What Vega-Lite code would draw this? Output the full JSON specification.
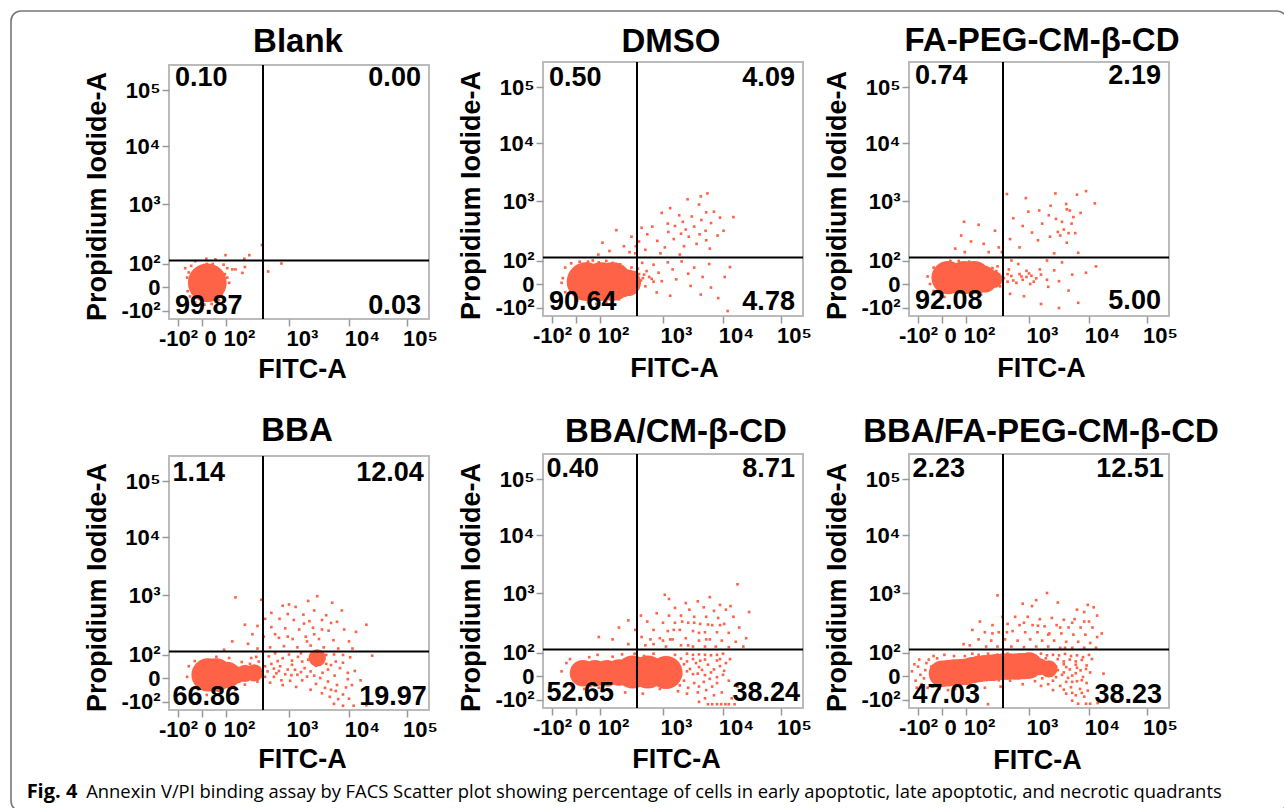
{"$schema":"https://vega.github.io/schema/vega-lite/v6.json","padding":{"left":10,"top":10,"right":0,"bottom":0},"background":"white",
"config":{"view":{"stroke":null},"title":{"font":"Liberation Sans","fontSize":33,"fontWeight":"bold","color":"#000"},"axis":{"values":[-1,-0.9,-0.8,-0.7,-0.6,-0.5,-0.4,-0.3,-0.2,-0.1,0,0.1,0.2,0.3,0.4,0.5,0.6,0.7,0.8,0.9,1,1.301,1.477,1.602,1.699,1.778,1.845,1.903,1.954,2,2.301,2.477,2.602,2.699,2.778,2.845,2.903,2.954,3,3.301,3.477,3.602,3.699,3.778,3.845,3.903,3.954,4,4.301],"labelExpr":"{'-1':'-10²','0':'0','1':'10²','2':'10³','3':'10⁴','4':'10⁵'}[datum.value]||''","domain":false,"grid":false,"labelFont":"Liberation Sans","labelFontSize":22,"labelFontWeight":"bold","labelColor":"#000","labelOverlap":false,"labelFlush":false,"labelBound":false,"tickColor":"#999","tickWidth":1.5,"tickSize":7,"titleFont":"Liberation Sans","titleFontSize":27,"titleFontWeight":"bold","titleColor":"#000","titleBaseline":"middle"},"text":{"font":"Liberation Sans","fontSize":27,"fontWeight":"bold","baseline":"middle","color":"#000"},"circle":{"color":"#ff6347","opacity":1},"square":{"color":"#ff6347","opacity":1,"size":7},"rule":{"color":"#000","strokeWidth":2}},
"datasets":{"gx":[{"x":1.587}],"gy":[{"y":1.05}],
"c1":[{"x":0.22,"y":0.18,"s":"l"}],
"c2":[{"x":0.42,"y":0.1,"s":"l"},{"x":1.02,"y":0.1,"s":"l"},{"x":1.2,"y":0.1,"s":"l"},{"x":1.44,"y":0.05,"s":"m"}],
"c3":[{"x":0.25,"y":0.27,"s":"k"},{"x":0.92,"y":0.27,"s":"k"},{"x":1.13,"y":0.27,"s":"k"},{"x":1.29,"y":0.2,"s":"m"},{"x":1.44,"y":0.2,"s":"s"}],
"c4":[{"x":0.25,"y":0.13,"s":"k"},{"x":0.58,"y":0.13,"s":"k"},{"x":1.02,"y":0.13,"s":"m"},{"x":1.17,"y":0.13,"s":"s"},{"x":1.3,"y":0.2,"s":"s"},{"x":1.45,"y":0.22,"s":"s"},{"x":2.47,"y":0.86,"s":"s"}],
"c5":[{"x":0.29,"y":0.12,"s":"m"},{"x":0.79,"y":0.12,"s":"m"},{"x":1.11,"y":0.12,"s":"m"},{"x":1.3,"y":0.15,"s":"m"},{"x":1.52,"y":0.17,"s":"k"},{"x":1.76,"y":0.17,"s":"k"},{"x":2.05,"y":0.15,"s":"k"}],
"c6":[{"x":0,"y":0.1,"s":"m"},{"x":0.25,"y":0.12,"s":"m"},{"x":0.5,"y":0.15,"s":"m"},{"x":0.75,"y":0.16,"s":"m"},{"x":1,"y":0.18,"s":"m"},{"x":1.1,"y":0.25,"s":"m"},{"x":1.2,"y":0.3,"s":"m"},{"x":1.3,"y":0.33,"s":"m"},{"x":1.41,"y":0.35,"s":"m"},{"x":1.5,"y":0.38,"s":"m"},{"x":1.6,"y":0.4,"s":"m"},{"x":1.7,"y":0.4,"s":"m"},{"x":1.81,"y":0.4,"s":"m"},{"x":1.9,"y":0.42,"s":"m"},{"x":2,"y":0.45,"s":"m"},{"x":2.17,"y":0.4,"s":"s"},{"x":2.33,"y":0.3,"s":"s"}],
"p1":[{"x":1.57,"y":1.31},{"x":1.37,"y":1.14},{"x":1.29,"y":1.08},{"x":0.98,"y":1.14},{"x":0.56,"y":1.07},{"x":0.18,"y":1.08},{"x":-0.28,"y":1.04},{"x":1.67,"y":0.66},{"x":1.88,"y":1},{"x":1.15,"y":0.75},{"x":1.1,"y":0.75},{"x":1.3,"y":0.85},{"x":1.26,"y":0.6},{"x":1.05,"y":0.18},{"x":-0.7,"y":0.8},{"x":-0.28,"y":-0.66},{"x":0.9,"y":0.95},{"x":1.02,"y":0.8},{"x":-0.62,"y":0.4},{"x":-0.6,"y":-0.18},{"x":0.78,"y":-0.3},{"x":1.02,"y":0.4},{"x":0.2,"y":0.98},{"x":-0.45,"y":0.9},{"x":0.45,"y":0.98},{"x":0.95,"y":0.55},{"x":-0.55,"y":0.62},{"x":0.7,"y":-0.55},{"x":-0.5,"y":-0.4},{"x":0.1,"y":-0.75},{"x":0.4,"y":-0.72}],
"p2":[{"x":2.74,"y":2.13},{"x":2.63,"y":2.08},{"x":2.41,"y":2.03},{"x":2.6,"y":1.94},{"x":2.12,"y":1.88},{"x":2.85,"y":1.82},{"x":2.72,"y":1.81},{"x":1.98,"y":1.8},{"x":2.27,"y":1.76},{"x":2.48,"y":1.74},{"x":2.95,"y":1.72},{"x":3.18,"y":1.73},{"x":2.64,"y":1.68},{"x":2.33,"y":1.65},{"x":2.8,"y":1.63},{"x":2.08,"y":1.62},{"x":2.2,"y":1.58},{"x":2.52,"y":1.57},{"x":2.38,"y":1.52},{"x":3.01,"y":1.5},{"x":2.71,"y":1.5},{"x":1.83,"y":1.57},{"x":2.09,"y":1.48},{"x":2.3,"y":1.45},{"x":2.61,"y":1.44},{"x":2.91,"y":1.42},{"x":1.75,"y":1.44},{"x":2.43,"y":1.4},{"x":2.18,"y":1.36},{"x":2.72,"y":1.34},{"x":1.91,"y":1.33},{"x":2.56,"y":1.28},{"x":2.35,"y":1.24},{"x":2.03,"y":1.22},{"x":2.78,"y":1.2},{"x":1.66,"y":1.55},{"x":1.62,"y":1.32},{"x":1.72,"y":1.18},{"x":1.96,"y":1.12},{"x":2.28,"y":1.1},{"x":1.26,"y":1.51},{"x":1.04,"y":1.3},{"x":1.5,"y":1.4},{"x":1.38,"y":1.24},{"x":1.15,"y":1.16},{"x":1.47,"y":1.14},{"x":0.93,"y":1.1},{"x":1.57,"y":1.24},{"x":1.56,"y":1.12},{"x":1.67,"y":0.9},{"x":1.85,"y":0.82},{"x":2.08,"y":0.92},{"x":2.31,"y":0.96},{"x":2.52,"y":0.7},{"x":2.77,"y":0.85},{"x":3.12,"y":0.72},{"x":1.74,"y":0.55},{"x":1.93,"y":0.48},{"x":2.16,"y":0.62},{"x":2.42,"y":0.44},{"x":2.66,"y":0.3},{"x":3.03,"y":0.3},{"x":1.68,"y":0.25},{"x":1.82,"y":0.22},{"x":1.98,"y":0.12},{"x":2.22,"y":0.2},{"x":2.46,"y":-0.08},{"x":2.8,"y":-0.15},{"x":1.72,"y":-0.1},{"x":1.9,"y":-0.36},{"x":2.12,"y":-0.5},{"x":2.63,"y":-0.45},{"x":2.92,"y":-0.6},{"x":3.08,"y":-1.15},{"x":1.63,"y":0.05},{"x":1.62,"y":0.42},{"x":1.57,"y":-0.35},{"x":1.4,"y":-0.5},{"x":1.1,"y":-0.75},{"x":0.85,"y":-0.85},{"x":-0.45,"y":0.7},{"x":-0.55,"y":0.25},{"x":-0.2,"y":0.88},{"x":0.5,"y":0.95},{"x":0.95,"y":0.92},{"x":1.32,"y":0.84},{"x":1.5,"y":0.7},{"x":1.55,"y":0.5},{"x":1.52,"y":0.3},{"x":1.58,"y":0.15},{"x":1.55,"y":-0.1},{"x":1.45,"y":-0.3},{"x":1.65,"y":0.15},{"x":1.7,"y":0.4},{"x":1.78,"y":0.3},{"x":1.85,"y":0.1},{"x":1.6,"y":0.65},{"x":1.1,"y":0.98},{"x":0.7,"y":1},{"x":0.15,"y":0.95},{"x":-0.6,"y":0.05},{"x":-0.45,"y":-0.35},{"x":0.05,"y":-0.7},{"x":0.5,"y":-0.78},{"x":1.3,"y":-0.65},{"x":1.2,"y":0.9}],
"p3":[{"x":2.95,"y":2.17},{"x":2.8,"y":2.11},{"x":2.44,"y":2.13},{"x":1.65,"y":2.12},{"x":1.95,"y":2.05},{"x":3.1,"y":1.96},{"x":2.62,"y":1.95},{"x":2.36,"y":1.92},{"x":2.63,"y":1.86},{"x":2.68,"y":1.84},{"x":2.17,"y":1.84},{"x":1.99,"y":1.82},{"x":2.86,"y":1.8},{"x":2.33,"y":1.76},{"x":2.74,"y":1.73},{"x":2.45,"y":1.7},{"x":1.75,"y":1.71},{"x":2.55,"y":1.65},{"x":2.22,"y":1.62},{"x":2.71,"y":1.62},{"x":1.9,"y":1.58},{"x":2.58,"y":1.52},{"x":2.48,"y":1.48},{"x":2.66,"y":1.46},{"x":2.05,"y":1.47},{"x":2.35,"y":1.4},{"x":2.77,"y":1.46},{"x":2.52,"y":1.42},{"x":1.7,"y":1.36},{"x":2.15,"y":1.34},{"x":2.63,"y":1.3},{"x":1.85,"y":1.22},{"x":2.82,"y":1.13},{"x":2.42,"y":1.12},{"x":0.92,"y":1.65},{"x":1.2,"y":1.6},{"x":1.46,"y":1.5},{"x":0.8,"y":1.42},{"x":1.08,"y":1.32},{"x":1.28,"y":1.28},{"x":1.52,"y":1.22},{"x":0.55,"y":1.2},{"x":0.95,"y":1.14},{"x":1.36,"y":1.14},{"x":1.57,"y":1.14},{"x":1.72,"y":1},{"x":1.83,"y":0.85},{"x":2.3,"y":1},{"x":2.55,"y":0.92},{"x":2.95,"y":0.48},{"x":3.12,"y":0.75},{"x":1.68,"y":0.62},{"x":1.96,"y":0.56},{"x":2.18,"y":0.62},{"x":2.42,"y":0.58},{"x":2.72,"y":0.4},{"x":1.72,"y":0.34},{"x":1.88,"y":0.32},{"x":1.96,"y":0.3},{"x":2.04,"y":0.35},{"x":2.12,"y":0.24},{"x":2.3,"y":0.18},{"x":2.5,"y":0.12},{"x":1.66,"y":0.1},{"x":1.8,"y":0.05},{"x":2.02,"y":0},{"x":2.32,"y":-0.12},{"x":2.66,"y":-0.28},{"x":1.7,"y":-0.42},{"x":1.92,"y":-0.52},{"x":2.2,"y":-0.85},{"x":2.5,"y":-1.02},{"x":2.82,"y":-0.8},{"x":1.56,"y":0.3},{"x":1.5,"y":0.05},{"x":1.4,"y":-0.2},{"x":1.24,"y":-0.45},{"x":1.48,"y":0.55},{"x":1.32,"y":0.72},{"x":1.12,"y":0.82},{"x":0.7,"y":0.98},{"x":-0.35,"y":0.7},{"x":-0.6,"y":0.32},{"x":1.5,"y":0.75},{"x":1.54,"y":-0.1},{"x":1.6,"y":0.25},{"x":1.66,"y":0.42},{"x":1.75,"y":0.15},{"x":1.85,"y":0.42},{"x":1.9,"y":0.18},{"x":2,"y":0.45},{"x":2.08,"y":0.1},{"x":2.2,"y":0.4},{"x":1.35,"y":0.5},{"x":1.42,"y":0.68},{"x":1.22,"y":-0.2},{"x":0.95,"y":-0.55},{"x":0.55,"y":-0.55},{"x":0.1,"y":-0.55},{"x":1.05,"y":0.95},{"x":0.35,"y":0.98},{"x":-0.5,"y":0},{"x":-0.35,"y":-0.3}],
"p4":[{"x":2.47,"y":1.98},{"x":2.72,"y":1.87},{"x":2.32,"y":1.9},{"x":2,"y":1.84},{"x":1.9,"y":1.82},{"x":2.11,"y":1.8},{"x":2.88,"y":1.74},{"x":2.42,"y":1.74},{"x":1.72,"y":1.7},{"x":1.98,"y":1.68},{"x":2.24,"y":1.67},{"x":2.62,"y":1.66},{"x":1.62,"y":1.6},{"x":1.85,"y":1.6},{"x":2.08,"y":1.58},{"x":2.34,"y":1.56},{"x":2.55,"y":1.58},{"x":2.8,"y":1.55},{"x":3.3,"y":1.5},{"x":1.3,"y":1.5},{"x":1.5,"y":1.48},{"x":1.72,"y":1.46},{"x":1.94,"y":1.44},{"x":2.17,"y":1.42},{"x":2.4,"y":1.45},{"x":2.66,"y":1.4},{"x":2.92,"y":1.42},{"x":3.12,"y":1.38},{"x":1.42,"y":1.34},{"x":1.6,"y":1.3},{"x":1.84,"y":1.28},{"x":2.06,"y":1.26},{"x":2.28,"y":1.3},{"x":2.5,"y":1.26},{"x":2.74,"y":1.24},{"x":3,"y":1.22},{"x":1.1,"y":1.22},{"x":1.35,"y":1.18},{"x":1.7,"y":1.12},{"x":1.92,"y":1.14},{"x":2.14,"y":1.12},{"x":2.36,"y":1.15},{"x":2.58,"y":1.12},{"x":2.82,"y":1.1},{"x":3.06,"y":1.1},{"x":0.92,"y":1.08},{"x":1.5,"y":1.1},{"x":1.15,"y":1.96},{"x":1.56,"y":1.92},{"x":1.68,"y":0.92},{"x":1.9,"y":0.84},{"x":2.15,"y":0.9},{"x":2.32,"y":0.78},{"x":2.58,"y":0.82},{"x":2.78,"y":0.7},{"x":3.02,"y":0.88},{"x":3.4,"y":0.95},{"x":1.72,"y":0.6},{"x":1.86,"y":0.5},{"x":2.05,"y":0.56},{"x":2.26,"y":0.42},{"x":2.45,"y":0.52},{"x":2.65,"y":0.36},{"x":2.85,"y":0.42},{"x":1.66,"y":0.28},{"x":1.8,"y":0.2},{"x":1.94,"y":0.16},{"x":2.04,"y":0.12},{"x":2.14,"y":0.14},{"x":2.3,"y":0.06},{"x":2.52,"y":0},{"x":2.76,"y":0.1},{"x":2.98,"y":-0.05},{"x":3.2,"y":-0.1},{"x":1.7,"y":-0.2},{"x":1.9,"y":-0.3},{"x":2.12,"y":-0.38},{"x":2.36,"y":-0.5},{"x":2.6,"y":-0.42},{"x":2.78,"y":-0.55},{"x":2.95,"y":-0.4},{"x":2.68,"y":-0.8},{"x":2.82,"y":-0.9},{"x":3,"y":-0.88},{"x":2.75,"y":-1.1},{"x":2.9,"y":-1.18},{"x":3.08,"y":-1.18},{"x":3.3,"y":-1.16},{"x":1.4,"y":0.85},{"x":1.52,"y":0.7},{"x":1.25,"y":0.68},{"x":1.45,"y":0.45},{"x":1.56,"y":0.25},{"x":1.1,"y":0.52},{"x":1.34,"y":0.38},{"x":1.5,"y":-0.15},{"x":1.3,"y":-0.28},{"x":1.05,"y":0.85},{"x":0.6,"y":0.9},{"x":1.15,"y":-0.5},{"x":-0.55,"y":0.5},{"x":-0.62,"y":0.05},{"x":-0.3,"y":0.72},{"x":0.2,"y":-0.72},{"x":0.7,"y":-0.55},{"x":1.42,"y":0.1},{"x":1.5,"y":0.3},{"x":1.55,"y":0.05},{"x":1.38,"y":0.6},{"x":1.48,"y":0.9},{"x":1.62,"y":0.5},{"x":1.62,"y":0.05},{"x":1.76,"y":0.4},{"x":1.76,"y":0.05},{"x":1.84,"y":0.3},{"x":1.88,"y":-0.1},{"x":1.98,"y":0.36},{"x":2.02,"y":-0.12},{"x":2.1,"y":0.35},{"x":2.2,"y":0.25},{"x":2.22,"y":-0.1},{"x":2.36,"y":0.28},{"x":2.42,"y":0.1},{"x":2.56,"y":0.22},{"x":2.62,"y":0.6},{"x":2.7,"y":0.55},{"x":2.9,"y":0.65},{"x":2.4,"y":0.68},{"x":2.22,"y":0.7},{"x":2.05,"y":0.74},{"x":1.82,"y":0.72},{"x":2.62,"y":0.98},{"x":2.75,"y":1},{"x":2.9,"y":0.98},{"x":2.4,"y":1},{"x":2.2,"y":1.02},{"x":2,"y":1},{"x":1.78,"y":1.02},{"x":2.65,"y":-0.15},{"x":2.8,"y":-0.3},{"x":2.45,"y":-0.25},{"x":2.55,"y":-0.65},{"x":2.7,"y":-0.5},{"x":2.9,"y":-0.7},{"x":3.05,"y":-0.3},{"x":3.1,"y":0.3},{"x":2.98,"y":0.22},{"x":2.3,"y":1.22},{"x":2.55,"y":1.42},{"x":2.25,"y":1.52},{"x":2.7,"y":1.53},{"x":1.98,"y":1.3},{"x":1.78,"y":1.34},{"x":2.42,"y":1.34}],
"p5":[{"x":3.25,"y":2.15},{"x":2.03,"y":1.97},{"x":2.1,"y":1.9},{"x":2.78,"y":1.93},{"x":2.58,"y":1.86},{"x":2.38,"y":1.83},{"x":2.95,"y":1.8},{"x":3.13,"y":1.78},{"x":2.2,"y":1.75},{"x":2.44,"y":1.72},{"x":2.68,"y":1.76},{"x":2.85,"y":1.7},{"x":3.05,"y":1.72},{"x":3.45,"y":1.68},{"x":1.65,"y":1.62},{"x":1.9,"y":1.66},{"x":2.1,"y":1.62},{"x":2.3,"y":1.62},{"x":2.52,"y":1.6},{"x":2.72,"y":1.6},{"x":2.92,"y":1.58},{"x":3.18,"y":1.6},{"x":1.45,"y":1.54},{"x":1.75,"y":1.52},{"x":2,"y":1.5},{"x":2.2,"y":1.5},{"x":2.42,"y":1.5},{"x":2.62,"y":1.48},{"x":2.82,"y":1.46},{"x":3.02,"y":1.48},{"x":3.28,"y":1.42},{"x":1.3,"y":1.42},{"x":1.56,"y":1.38},{"x":1.85,"y":1.38},{"x":2.08,"y":1.36},{"x":2.28,"y":1.38},{"x":2.5,"y":1.36},{"x":2.7,"y":1.34},{"x":2.9,"y":1.34},{"x":3.1,"y":1.33},{"x":3.4,"y":1.24},{"x":0.95,"y":1.26},{"x":1.2,"y":1.22},{"x":1.66,"y":1.26},{"x":1.95,"y":1.24},{"x":2.16,"y":1.22},{"x":2.38,"y":1.24},{"x":2.6,"y":1.2},{"x":2.78,"y":1.22},{"x":2.98,"y":1.2},{"x":3.22,"y":1.18},{"x":1.45,"y":1.14},{"x":1.72,"y":1.12},{"x":2.05,"y":1.1},{"x":2.3,"y":1.12},{"x":2.5,"y":1.1},{"x":2.7,"y":1.1},{"x":2.88,"y":1.1},{"x":3.1,"y":1.09},{"x":3.35,"y":1.1},{"x":2.2,"y":0.9},{"x":2.4,"y":0.95},{"x":2.6,"y":0.92},{"x":2.8,"y":0.88},{"x":3,"y":0.95},{"x":2.3,"y":0.74},{"x":2.5,"y":0.72},{"x":2.7,"y":0.7},{"x":2.9,"y":0.66},{"x":3.12,"y":0.72},{"x":2.35,"y":0.5},{"x":2.55,"y":0.55},{"x":2.75,"y":0.48},{"x":2.95,"y":0.42},{"x":2.45,"y":0.3},{"x":2.65,"y":0.26},{"x":2.85,"y":0.28},{"x":3.02,"y":0.22},{"x":2.3,"y":0.05},{"x":2.5,"y":0.08},{"x":2.7,"y":0.04},{"x":2.9,"y":-0.05},{"x":2.35,"y":-0.2},{"x":2.52,"y":-0.3},{"x":2.42,"y":-0.5},{"x":2.68,"y":-0.25},{"x":2.82,"y":-0.45},{"x":2.98,"y":-0.7},{"x":3.25,"y":-0.45},{"x":2.58,"y":-0.7},{"x":2.7,"y":-0.95},{"x":2.85,"y":-0.82},{"x":3.15,"y":-0.95},{"x":2.6,"y":-1.1},{"x":2.75,"y":-1.2},{"x":2.82,"y":-1.2},{"x":2.9,"y":-1.2},{"x":2.97,"y":-1.2},{"x":3.04,"y":-1.2},{"x":3.1,"y":-1.2},{"x":3.2,"y":-1.2},{"x":1.55,"y":0.95},{"x":1.35,"y":0.92},{"x":0.9,"y":0.9},{"x":1.85,"y":0.95},{"x":2.05,"y":0.8},{"x":-0.4,"y":0.55},{"x":-0.6,"y":0.2},{"x":-0.25,"y":0.72},{"x":0.35,"y":-0.55},{"x":0.95,"y":-0.5},{"x":1.4,"y":-0.7},{"x":1.68,"y":-0.75},{"x":2.12,"y":0.55},{"x":2.22,"y":0.35},{"x":2.2,"y":0.1},{"x":2.15,"y":-0.15},{"x":2.28,"y":-0.4},{"x":2.1,"y":-0.45},{"x":1.95,"y":-0.55},{"x":2.25,"y":-0.65},{"x":2.4,"y":-0.75},{"x":2.4,"y":0.2},{"x":2.6,"y":0.38},{"x":2.58,"y":0.1},{"x":2.8,"y":0.15},{"x":2.78,"y":-0.12},{"x":3,"y":0.05},{"x":3.1,"y":-0.2},{"x":2.6,"y":-0.45},{"x":2.9,"y":-0.3},{"x":2.72,"y":-0.6},{"x":2.95,"y":0.72},{"x":3.05,"y":0.55},{"x":2.62,"y":0.65},{"x":2.4,"y":0.62},{"x":2.5,"y":0.9},{"x":2.7,"y":0.9},{"x":2.9,"y":0.9},{"x":2.72,"y":1.22},{"x":2.42,"y":1.12},{"x":2.6,"y":1.33},{"x":2.18,"y":1.38},{"x":2,"y":1.2},{"x":1.85,"y":1.14},{"x":2.32,"y":1.52},{"x":2.52,"y":1.5},{"x":2.75,"y":1.47},{"x":2.95,"y":1.46},{"x":2.12,"y":1.22},{"x":1.8,"y":1.22},{"x":0.55,"y":0.8},{"x":1.2,"y":0.82},{"x":1.7,"y":0.85},{"x":2.02,"y":-0.3},{"x":1.15,"y":-0.38},{"x":0.6,"y":-0.42},{"x":-0.2,"y":-0.4}],
"p6":[{"x":2.3,"y":2},{"x":1.5,"y":1.96},{"x":2.12,"y":1.88},{"x":2.48,"y":1.84},{"x":1.9,"y":1.82},{"x":2.05,"y":1.78},{"x":2.98,"y":1.8},{"x":3.08,"y":1.76},{"x":2.8,"y":1.72},{"x":2.92,"y":1.68},{"x":3.14,"y":1.62},{"x":1.58,"y":1.6},{"x":1.78,"y":1.6},{"x":1.98,"y":1.6},{"x":2.18,"y":1.56},{"x":2.38,"y":1.58},{"x":2.58,"y":1.55},{"x":2.76,"y":1.56},{"x":3,"y":1.52},{"x":1.22,"y":1.52},{"x":1.42,"y":1.46},{"x":1.66,"y":1.48},{"x":1.85,"y":1.46},{"x":2.06,"y":1.46},{"x":2.26,"y":1.44},{"x":2.46,"y":1.46},{"x":2.66,"y":1.42},{"x":2.86,"y":1.42},{"x":3.06,"y":1.42},{"x":3.22,"y":1.32},{"x":1.1,"y":1.38},{"x":1.3,"y":1.34},{"x":1.52,"y":1.34},{"x":1.74,"y":1.36},{"x":1.94,"y":1.34},{"x":2.14,"y":1.34},{"x":2.34,"y":1.32},{"x":2.54,"y":1.32},{"x":2.74,"y":1.3},{"x":2.94,"y":1.3},{"x":3.14,"y":1.26},{"x":1.2,"y":1.22},{"x":1.4,"y":1.2},{"x":1.62,"y":1.22},{"x":1.82,"y":1.2},{"x":2.02,"y":1.22},{"x":2.22,"y":1.2},{"x":2.42,"y":1.2},{"x":2.62,"y":1.18},{"x":2.82,"y":1.18},{"x":3.02,"y":1.16},{"x":0.9,"y":1.14},{"x":1.06,"y":1.12},{"x":1.32,"y":1.1},{"x":1.5,"y":1.1},{"x":1.72,"y":1.1},{"x":1.92,"y":1.09},{"x":2.12,"y":1.1},{"x":2.32,"y":1.1},{"x":2.52,"y":1.08},{"x":2.72,"y":1.08},{"x":2.92,"y":1.08},{"x":3.12,"y":1.08},{"x":2.2,"y":0.95},{"x":2.4,"y":0.9},{"x":2.6,"y":0.94},{"x":2.8,"y":0.88},{"x":3,"y":0.9},{"x":2.28,"y":0.75},{"x":2.48,"y":0.72},{"x":2.68,"y":0.7},{"x":2.88,"y":0.68},{"x":3.05,"y":0.72},{"x":2.38,"y":0.52},{"x":2.58,"y":0.5},{"x":2.78,"y":0.48},{"x":2.96,"y":0.45},{"x":2.48,"y":0.25},{"x":2.68,"y":0.28},{"x":2.86,"y":0.24},{"x":3.02,"y":0.15},{"x":2.3,"y":0.05},{"x":2.55,"y":0.05},{"x":2.72,"y":0.02},{"x":2.9,"y":-0.04},{"x":2.4,"y":-0.2},{"x":2.62,"y":-0.25},{"x":2.8,"y":-0.22},{"x":2.96,"y":-0.3},{"x":2.2,"y":-0.42},{"x":2.7,"y":-0.48},{"x":2.85,"y":-0.55},{"x":2.98,"y":-0.62},{"x":2.62,"y":-0.75},{"x":2.78,"y":-0.82},{"x":2.92,"y":-0.88},{"x":2.72,"y":-1.05},{"x":2.82,"y":-1.18},{"x":2.95,"y":-1.18},{"x":3.02,"y":-1.18},{"x":3.15,"y":-1.15},{"x":3.45,"y":-1},{"x":3.25,"y":0.1},{"x":1.7,"y":-0.2},{"x":1.9,"y":-0.35},{"x":1.55,"y":-0.45},{"x":1.3,"y":-0.5},{"x":1.05,"y":-0.42},{"x":1.35,"y":-1.2},{"x":-1.25,"y":0.2},{"x":-1.1,"y":-0.2},{"x":-1,"y":0.4},{"x":-0.85,"y":-0.35},{"x":-0.7,"y":0.25},{"x":-0.55,"y":0.7},{"x":-0.4,"y":-0.45},{"x":-0.2,"y":0.75},{"x":0.1,"y":0.9},{"x":0.5,"y":0.85},{"x":0.95,"y":0.85},{"x":1.1,"y":0.95},{"x":0.55,"y":-0.55},{"x":-0.9,"y":0.05},{"x":-1.15,"y":0.5},{"x":-1.05,"y":-0.5},{"x":-0.95,"y":0.7},{"x":-0.75,"y":-0.1},{"x":-0.65,"y":0.55},{"x":-0.6,"y":-0.5},{"x":-0.45,"y":0.4},{"x":-0.35,"y":0.85},{"x":-0.1,"y":-0.55},{"x":0.25,"y":-0.6},{"x":0.8,"y":-0.5},{"x":1.2,"y":0.9},{"x":1.35,"y":0.95},{"x":1.5,"y":0.9},{"x":1.66,"y":0.95},{"x":1.85,"y":0.92},{"x":2.02,"y":0.9},{"x":1.78,"y":0.85},{"x":1.95,"y":0.78},{"x":2.12,"y":0.72},{"x":2.3,"y":0.88},{"x":2.5,"y":0.88},{"x":2.7,"y":0.85},{"x":2.9,"y":0.8},{"x":2.58,"y":0.62},{"x":2.78,"y":0.62},{"x":2.45,"y":0.4},{"x":2.62,"y":0.38},{"x":2.8,"y":0.35},{"x":2.95,"y":0.3},{"x":2.38,"y":0.18},{"x":2.58,"y":0.15},{"x":2.78,"y":0.12},{"x":2.22,"y":-0.1},{"x":2.45,"y":-0.05},{"x":2.65,"y":-0.08},{"x":2.1,"y":-0.22},{"x":2.32,"y":-0.35},{"x":2.52,"y":-0.42},{"x":2.72,"y":-0.25},{"x":2.88,"y":-0.18},{"x":2.4,"y":-0.6},{"x":2.58,"y":-0.58},{"x":2.72,"y":-0.72},{"x":2.88,"y":-0.72},{"x":1.98,"y":-0.05},{"x":1.78,"y":-0.05},{"x":1.52,"y":-0.18},{"x":1.2,"y":-0.2},{"x":0.9,"y":-0.3},{"x":2.32,"y":1.3},{"x":2.15,"y":1.45},{"x":1.92,"y":1.5},{"x":1.65,"y":1.34},{"x":1.42,"y":1.32},{"x":2.52,"y":1.42},{"x":2.72,"y":1.5},{"x":2.92,"y":1.52},{"x":2.6,"y":1.08}]},
"bounds":"flush","spacing":0,
"vconcat":[
{"bounds":"flush","spacing":0,"vconcat":[{"width":1276,"height":800,"view":{"stroke":"#777","strokeWidth":1.6,"cornerRadius":10},"data":{"values":[{}]},"mark":{"type":"point","size":0,"opacity":0},"encoding":{}}]},
{"bounds":"flush","spacing":50,"vconcat":[
{"width":1,"height":1,"data":{"values":[{}]},"mark":{"type":"point","size":0,"opacity":0},"encoding":{}},
{"bounds":"flush","spacing":720,"vconcat":[
 {"bounds":"flush","spacing":157,"hconcat":[
  {"width":1,"height":1,"data":{"values":[{}]},"mark":{"type":"point","size":0,"opacity":0},"encoding":{}},
  {"bounds":"flush","spacing":374,"hconcat":[
   {"bounds":"flush","spacing":2,"vconcat":[
    {"width":1,"height":1,"data":{"values":[{}]},"mark":{"type":"point","size":0,"opacity":0},"encoding":{}},
    {"bounds":"flush","spacing":137,"vconcat":[
     {"width":260,"height":254,"title":{"text":"Blank","offset":5,"dx":-1},"view":{"stroke":"#bbb","strokeWidth":2},"layer":[
      {"data":{"name":"c1"},"mark":"circle","encoding":{"x":{"field":"x","type":"quantitative","scale":{"domain":[-1,0,1,2,3,4],"range":[9,33,57,120,180,238]},"axis":{"title":"FITC-A","titleX":133,"titleY":50,"labelOffset":{"condition":[{"test":"datum.value<0","value":0},{"test":"datum.value===0","value":8}],"value":13},"tickSize":{"condition":{"test":"datum.value===floor(datum.value)","value":7},"value":4}}},"y":{"field":"y","type":"quantitative","scale":{"domain":[-1,0,1,2,3,4],"range":[245.5,222,198.5,139,81,25]},"axis":{"title":"Propidium Iodide-A","titleX":-72,"titleY":131,"tickSize":{"condition":{"test":"datum.value===floor(datum.value)","value":7},"value":4}}},"size":{"field":"s","type":"nominal","scale":{"type":"ordinal","domain":["l","k","m","s"],"range":[1500,1100,700,300]},"legend":null}}},
      {"data":{"name":"p1"},"mark":"square","encoding":{"x":{"field":"x","type":"quantitative"},"y":{"field":"y","type":"quantitative"}}},
      {"data":{"name":"gx"},"mark":"rule","encoding":{"x":{"field":"x","type":"quantitative"}}},
      {"data":{"name":"gy"},"mark":"rule","encoding":{"y":{"field":"y","type":"quantitative"}}},
      {"data":{"values":[{"x":-1.125,"y":4.21,"t":"0.10"},{"x":-1.125,"y":-0.81,"t":"99.87"}]},"mark":{"type":"text","align":"left"},"encoding":{"x":{"field":"x","type":"quantitative"},"y":{"field":"y","type":"quantitative"},"text":{"field":"t"}}},
      {"data":{"values":[{"x":4.24,"y":4.21,"t":"0.00"},{"x":4.24,"y":-0.81,"t":"0.03"}]},"mark":{"type":"text","align":"right"},"encoding":{"x":{"field":"x","type":"quantitative"},"y":{"field":"y","type":"quantitative"},"text":{"field":"t"}}}
     ]},
     {"width":260,"height":254,"title":{"text":"BBA","offset":7,"dx":-2},"view":{"stroke":"#bbb","strokeWidth":2},"layer":[
      {"data":{"name":"c4"},"mark":"circle","encoding":{"x":{"field":"x","type":"quantitative","scale":{"domain":[-1,0,1,2,3,4],"range":[9,33,57,120,180,238]},"axis":{"title":"FITC-A","titleX":133,"titleY":49,"labelOffset":{"condition":[{"test":"datum.value<0","value":0},{"test":"datum.value===0","value":8}],"value":13},"tickSize":{"condition":{"test":"datum.value===floor(datum.value)","value":7},"value":4}}},"y":{"field":"y","type":"quantitative","scale":{"domain":[-1,0,1,2,3,4],"range":[245.5,222,198.5,139,81,25]},"axis":{"title":"Propidium Iodide-A","titleX":-72,"titleY":131,"tickSize":{"condition":{"test":"datum.value===floor(datum.value)","value":7},"value":4}}},"size":{"field":"s","type":"nominal","scale":{"type":"ordinal","domain":["l","k","m","s"],"range":[1500,1100,700,300]},"legend":null}}},
      {"data":{"name":"p4"},"mark":"square","encoding":{"x":{"field":"x","type":"quantitative"},"y":{"field":"y","type":"quantitative"}}},
      {"data":{"name":"gx"},"mark":"rule","encoding":{"x":{"field":"x","type":"quantitative"}}},
      {"data":{"name":"gy"},"mark":"rule","encoding":{"y":{"field":"y","type":"quantitative"}}},
      {"data":{"values":[{"x":-1.23,"y":4.14,"t":"1.14"},{"x":-1.23,"y":-0.81,"t":"66.86"}]},"mark":{"type":"text","align":"left"},"encoding":{"x":{"field":"x","type":"quantitative"},"y":{"field":"y","type":"quantitative"},"text":{"field":"t"}}},
      {"data":{"values":[{"x":4.29,"y":4.14,"t":"12.04"},{"x":4.34,"y":-0.81,"t":"19.97"}]},"mark":{"type":"text","align":"right"},"encoding":{"x":{"field":"x","type":"quantitative"},"y":{"field":"y","type":"quantitative"},"text":{"field":"t"}}}
     ]}
    ]}
   ]},
   {"bounds":"flush","spacing":366,"hconcat":[
    {"bounds":"flush","spacing":138,"vconcat":[
     {"width":260,"height":254,"title":{"text":"DMSO","offset":2,"dx":-2},"view":{"stroke":"#bbb","strokeWidth":2},"layer":[
      {"data":{"name":"c2"},"mark":"circle","encoding":{"x":{"field":"x","type":"quantitative","scale":{"domain":[-1,0,1,2,3,4],"range":[9,33,57,120,180,238]},"axis":{"title":"FITC-A","titleX":131,"titleY":52,"labelOffset":{"condition":[{"test":"datum.value<0","value":0},{"test":"datum.value===0","value":8}],"value":13},"tickSize":{"condition":{"test":"datum.value===floor(datum.value)","value":7},"value":4}}},"y":{"field":"y","type":"quantitative","scale":{"domain":[-1,0,1,2,3,4],"range":[245.5,222,198.5,139,81,25]},"axis":{"title":"Propidium Iodide-A","titleX":-72,"titleY":133,"tickSize":{"condition":{"test":"datum.value===floor(datum.value)","value":7},"value":4}}},"size":{"field":"s","type":"nominal","scale":{"type":"ordinal","domain":["l","k","m","s"],"range":[1500,1100,700,300]},"legend":null}}},
      {"data":{"name":"p2"},"mark":"square","encoding":{"x":{"field":"x","type":"quantitative"},"y":{"field":"y","type":"quantitative"}}},
      {"data":{"name":"gx"},"mark":"rule","encoding":{"x":{"field":"x","type":"quantitative"}}},
      {"data":{"name":"gy"},"mark":"rule","encoding":{"y":{"field":"y","type":"quantitative"}}},
      {"data":{"values":[{"x":-1.125,"y":4.16,"t":"0.50"},{"x":-1.125,"y":-0.77,"t":"90.64"}]},"mark":{"type":"text","align":"left"},"encoding":{"x":{"field":"x","type":"quantitative"},"y":{"field":"y","type":"quantitative"},"text":{"field":"t"}}},
      {"data":{"values":[{"x":4.24,"y":4.16,"t":"4.09"},{"x":4.24,"y":-0.77,"t":"4.78"}]},"mark":{"type":"text","align":"right"},"encoding":{"x":{"field":"x","type":"quantitative"},"y":{"field":"y","type":"quantitative"},"text":{"field":"t"}}}
     ]},
     {"width":260,"height":254,"title":{"text":"BBA/CM-β-CD","offset":4,"dx":3},"view":{"stroke":"#bbb","strokeWidth":2},"layer":[
      {"data":{"name":"c5"},"mark":"circle","encoding":{"x":{"field":"x","type":"quantitative","scale":{"domain":[-1,0,1,2,3,4],"range":[9,33,57,120,180,238]},"axis":{"title":"FITC-A","titleX":133,"titleY":51,"labelOffset":{"condition":[{"test":"datum.value<0","value":0},{"test":"datum.value===0","value":8}],"value":13},"tickSize":{"condition":{"test":"datum.value===floor(datum.value)","value":7},"value":4}}},"y":{"field":"y","type":"quantitative","scale":{"domain":[-1,0,1,2,3,4],"range":[245.5,222,198.5,139,81,25]},"axis":{"title":"Propidium Iodide-A","titleX":-72,"titleY":133,"tickSize":{"condition":{"test":"datum.value===floor(datum.value)","value":7},"value":4}}},"size":{"field":"s","type":"nominal","scale":{"type":"ordinal","domain":["l","k","m","s"],"range":[1500,1100,700,300]},"legend":null}}},
      {"data":{"name":"p5"},"mark":"square","encoding":{"x":{"field":"x","type":"quantitative"},"y":{"field":"y","type":"quantitative"}}},
      {"data":{"name":"gx"},"mark":"rule","encoding":{"x":{"field":"x","type":"quantitative"}}},
      {"data":{"name":"gy"},"mark":"rule","encoding":{"y":{"field":"y","type":"quantitative"}}},
      {"data":{"values":[{"x":-1.23,"y":4.18,"t":"0.40"},{"x":-1.23,"y":-0.72,"t":"52.65"}]},"mark":{"type":"text","align":"left"},"encoding":{"x":{"field":"x","type":"quantitative"},"y":{"field":"y","type":"quantitative"},"text":{"field":"t"}}},
      {"data":{"values":[{"x":4.24,"y":4.18,"t":"8.71"},{"x":4.33,"y":-0.72,"t":"38.24"}]},"mark":{"type":"text","align":"right"},"encoding":{"x":{"field":"x","type":"quantitative"},"y":{"field":"y","type":"quantitative"},"text":{"field":"t"}}}
     ]}
    ]},
    {"bounds":"flush","spacing":138,"vconcat":[
     {"width":260,"height":254,"title":{"text":"FA-PEG-CM-β-CD","offset":3,"dx":3},"view":{"stroke":"#bbb","strokeWidth":2},"layer":[
      {"data":{"name":"c3"},"mark":"circle","encoding":{"x":{"field":"x","type":"quantitative","scale":{"domain":[-1,0,1,2,3,4],"range":[9,33,57,120,180,238]},"axis":{"title":"FITC-A","titleX":132,"titleY":52,"labelOffset":{"condition":[{"test":"datum.value<0","value":0},{"test":"datum.value===0","value":8}],"value":13},"tickSize":{"condition":{"test":"datum.value===floor(datum.value)","value":7},"value":4}}},"y":{"field":"y","type":"quantitative","scale":{"domain":[-1,0,1,2,3,4],"range":[245.5,222,198.5,139,81,25]},"axis":{"title":"Propidium Iodide-A","titleX":-72,"titleY":133,"tickSize":{"condition":{"test":"datum.value===floor(datum.value)","value":7},"value":4}}},"size":{"field":"s","type":"nominal","scale":{"type":"ordinal","domain":["l","k","m","s"],"range":[1500,1100,700,300]},"legend":null}}},
      {"data":{"name":"p3"},"mark":"square","encoding":{"x":{"field":"x","type":"quantitative"},"y":{"field":"y","type":"quantitative"}}},
      {"data":{"name":"gx"},"mark":"rule","encoding":{"x":{"field":"x","type":"quantitative"}}},
      {"data":{"name":"gy"},"mark":"rule","encoding":{"y":{"field":"y","type":"quantitative"}}},
      {"data":{"values":[{"x":-1.125,"y":4.2,"t":"0.74"},{"x":-1.125,"y":-0.72,"t":"92.08"}]},"mark":{"type":"text","align":"left"},"encoding":{"x":{"field":"x","type":"quantitative"},"y":{"field":"y","type":"quantitative"},"text":{"field":"t"}}},
      {"data":{"values":[{"x":4.24,"y":4.2,"t":"2.19"},{"x":4.24,"y":-0.72,"t":"5.00"}]},"mark":{"type":"text","align":"right"},"encoding":{"x":{"field":"x","type":"quantitative"},"y":{"field":"y","type":"quantitative"},"text":{"field":"t"}}}
     ]},
     {"width":260,"height":254,"title":{"text":"BBA/FA-PEG-CM-β-CD","offset":4,"dx":2},"view":{"stroke":"#bbb","strokeWidth":2},"layer":[
      {"data":{"name":"c6"},"mark":"circle","encoding":{"x":{"field":"x","type":"quantitative","scale":{"domain":[-1,0,1,2,3,4],"range":[9,33,57,120,180,238]},"axis":{"title":"FITC-A","titleX":128,"titleY":52,"labelOffset":{"condition":[{"test":"datum.value<0","value":0},{"test":"datum.value===0","value":8}],"value":13},"tickSize":{"condition":{"test":"datum.value===floor(datum.value)","value":7},"value":4}}},"y":{"field":"y","type":"quantitative","scale":{"domain":[-1,0,1,2,3,4],"range":[245.5,222,198.5,139,81,25]},"axis":{"title":"Propidium Iodide-A","titleX":-72,"titleY":133,"tickSize":{"condition":{"test":"datum.value===floor(datum.value)","value":7},"value":4}}},"size":{"field":"s","type":"nominal","scale":{"type":"ordinal","domain":["l","k","m","s"],"range":[1500,1100,700,300]},"legend":null}}},
      {"data":{"name":"p6"},"mark":"square","encoding":{"x":{"field":"x","type":"quantitative"},"y":{"field":"y","type":"quantitative"}}},
      {"data":{"name":"gx"},"mark":"rule","encoding":{"x":{"field":"x","type":"quantitative"}}},
      {"data":{"name":"gy"},"mark":"rule","encoding":{"y":{"field":"y","type":"quantitative"}}},
      {"data":{"values":[{"x":-1.23,"y":4.18,"t":"2.23"},{"x":-1.23,"y":-0.81,"t":"47.03"}]},"mark":{"type":"text","align":"left"},"encoding":{"x":{"field":"x","type":"quantitative"},"y":{"field":"y","type":"quantitative"},"text":{"field":"t"}}},
      {"data":{"values":[{"x":4.29,"y":4.18,"t":"12.51"},{"x":4.26,"y":-0.81,"t":"38.23"}]},"mark":{"type":"text","align":"right"},"encoding":{"x":{"field":"x","type":"quantitative"},"y":{"field":"y","type":"quantitative"},"text":{"field":"t"}}}
     ]}
    ]}
   ]}
  ]}
 ]},
 {"width":1270,"height":20,"layer":[
  {"data":{"values":[{"x":16,"t":"Fig. 4"}]},"mark":{"type":"text","align":"left","font":"Open Sans","fontSize":20,"fontWeight":"bold"},"encoding":{"x":{"field":"x","type":"quantitative","scale":{"domain":[0,1270]},"axis":null},"text":{"field":"t"}}},
  {"data":{"values":[{"x":77,"t":"Annexin V/PI binding assay by FACS Scatter plot showing percentage of cells in early apoptotic, late apoptotic, and necrotic quadrants"}]},"mark":{"type":"text","align":"left","font":"Open Sans","fontSize":18.36,"fontWeight":"normal"},"encoding":{"x":{"field":"x","type":"quantitative"},"text":{"field":"t"}}}
 ]}
]}
]}
]}
